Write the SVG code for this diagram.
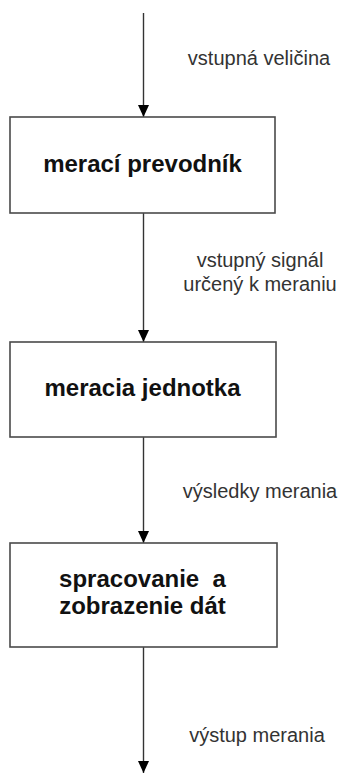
<svg xmlns="http://www.w3.org/2000/svg" width="339" height="773" viewBox="0 0 339 773">
<defs>
<marker id="arr" markerUnits="userSpaceOnUse" markerWidth="12" markerHeight="12" viewBox="0 0 12 12" refX="12" refY="6" orient="auto">
<path d="M0,0.5 L12,6 L0,11.5 Z" fill="#000"/>
</marker>
</defs>
<style>
.box{fill:#fff;stroke:#4a4a4a;stroke-width:1.6}
.bt{font-family:"Liberation Sans",Arial,sans-serif;font-weight:bold;font-size:24px;fill:#111;text-anchor:middle;white-space:pre}
.lb{font-family:"Liberation Sans",Arial,sans-serif;font-size:20px;fill:#333;text-anchor:middle}
.cn{stroke:#333;stroke-width:1.4;fill:none;marker-end:url(#arr)}
</style>
<rect width="339" height="773" fill="#fff"/>
<g id="connectors">
<path class="cn" d="M143.5,13 V117"/>
<path class="cn" d="M143.5,213 V342"/>
<path class="cn" d="M143.5,437 V543"/>
<path class="cn" d="M143.5,647 V773"/>
</g>
<g id="labels">
<text class="lb" x="259" y="65">vstupná veličina</text>
<text class="lb" x="260" y="267">vstupný signál</text>
<text class="lb" x="260" y="291">určený k meraniu</text>
<text class="lb" x="260" y="498">výsledky merania</text>
<text class="lb" x="257" y="742">výstup merania</text>
</g>
<g id="node1">
<rect class="box" x="10" y="117" width="265" height="96"/>
<text class="bt" x="142.5" y="172">merací prevodník</text>
</g>
<g id="node2">
<rect class="box" x="10" y="342" width="266" height="95"/>
<text class="bt" x="142.5" y="396">meracia jednotka</text>
</g>
<g id="node3">
<rect class="box" x="10" y="543" width="267" height="104"/>
<text class="bt" x="142.5" y="587">spracovanie  a</text>
<text class="bt" x="142.5" y="614">zobrazenie dát</text>
</g>
</svg>
